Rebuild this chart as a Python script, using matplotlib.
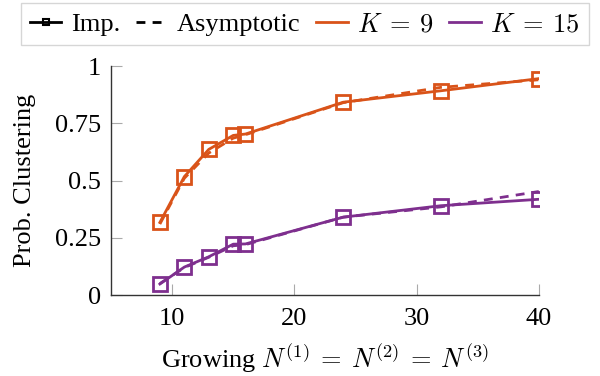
import matplotlib
matplotlib.use("Agg")
import matplotlib.pyplot as plt
from matplotlib.lines import Line2D

plt.rcParams['font.family'] = ['Liberation Serif', 'DejaVu Serif']
plt.rcParams['mathtext.fontset'] = 'cm'
plt.rcParams['font.size'] = 19

N = [9, 11, 13, 15, 16, 24, 32, 40]
imp_k9 = [0.317, 0.517, 0.636, 0.697, 0.703, 0.842, 0.892, 0.945]
asy_k9 = [0.31, 0.51, 0.62, 0.685, 0.70, 0.84, 0.907, 0.94]
imp_k15 = [0.048, 0.122, 0.167, 0.222, 0.223, 0.340, 0.390, 0.418]
asy_k15 = [0.05, 0.12, 0.165, 0.215, 0.22, 0.34, 0.385, 0.452]

orange = '#D95319'
purple = '#7E2F8E'

fig = plt.figure(figsize=(6, 3.76), dpi=100)
ax = fig.add_axes([0.185, 0.2154, 0.713, 0.609])

lw = 2.0
dash = (0, (3.2, 2.6))
ax.plot(N, asy_k9, color=orange, lw=lw, ls=dash)
ax.plot(N, asy_k15, color=purple, lw=lw, ls=dash)
ax.plot(N, imp_k9, color=orange, lw=lw, marker='s', ms=10, mfc='none', mew=2.0)
ax.plot(N, imp_k15, color=purple, lw=lw, marker='s', ms=10, mfc='none', mew=2.0)

ax.set_xlim(5, 40)
ax.set_ylim(0, 1)
ax.set_xticks([10, 20, 30, 40])
ax.set_yticks([0, 0.25, 0.5, 0.75, 1])
ax.set_yticklabels(['0', '0.25', '0.5', '0.75', '1'])
ax.tick_params(direction='in', length=8, width=0.8, color='#aaaaaa')
ax.tick_params(axis='x', pad=9)
ax.tick_params(axis='y', pad=7)
for s in ['top', 'right']:
    ax.spines[s].set_visible(False)
for s in ['left', 'bottom']:
    ax.spines[s].set_color('#333333')
    ax.spines[s].set_linewidth(1.0)

ax.set_ylabel('Prob. Clustering', labelpad=14)
ax.set_xlabel(r'Growing $N^{(1)}\:=\:N^{(2)}\:=\:N^{(3)}$', labelpad=9)

handles = [
    Line2D([], [], color='black', lw=lw, marker='s', ms=5, mfc='none', mew=1.5),
    Line2D([], [], color='black', lw=lw, ls=dash),
    Line2D([], [], color=orange, lw=lw),
    Line2D([], [], color=purple, lw=lw),
]
labels = ['Imp.', 'Asymptotic', r'$K\:=\:9$', r'$K\:=\:15$']
leg = fig.legend(handles, labels, loc='center', bbox_to_anchor=(0.508, 0.935), ncol=4,
                 frameon=True, fancybox=False, handlelength=1.2, handletextpad=0.35,
                 columnspacing=0.6, borderpad=0.35)
leg.get_frame().set_edgecolor('#cccccc')
leg.get_frame().set_linewidth(1.0)

fig.savefig('out.png', dpi=100)
